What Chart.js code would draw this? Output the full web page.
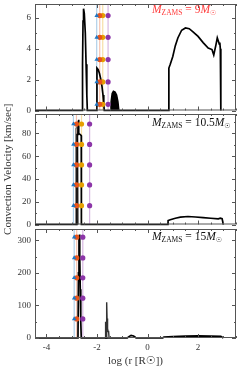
<!DOCTYPE html>
<html>
<head>
<meta charset="utf-8">
<script src="https://cdn.jsdelivr.net/npm/chart.js@4"></script>
<style>
  body { margin: 0; background: #fff; }
  #wrap { position: relative; width: 240px; height: 369px; }
  canvas { position: absolute; left: 0; top: 0; }
</style>
</head>
<body>
<div id="wrap">
  <canvas id="c9" width="240" height="369"></canvas>
  <canvas id="c105" width="240" height="369"></canvas>
  <canvas id="c15" width="240" height="369"></canvas>
</div>
<script>
// log r [Rsun] and convection velocity [km/s] per model
const r9 = [-4.45, -2.58, -2.57, -2.55, -2.53, -2.50, -2.46, -2.43, -2.40, -2.38, -2.01, -2.0, -1.95, -1.9, -1.85, -1.8, -1.76, -1.73, -1.71, 0.84, 0.845, 0.9, 1.0, 1.1, 1.2, 1.35, 1.5, 1.65, 1.8, 2.0, 2.2, 2.4, 2.55, 2.62, 2.7, 2.76, 2.8, 2.84, 2.86, 2.88, 2.9];
const vel9 = [0, 0, 3.0, 5.8, 6.6, 6.3, 5.0, 3.0, 1.0, 0, 0, 2.75, 2.65, 2.4, 2.05, 1.55, 1.0, 0.4, 0, 0, 2.75, 3.0, 3.5, 4.2, 4.7, 5.2, 5.35, 5.3, 5.1, 4.8, 4.4, 4.05, 3.95, 3.6, 4.2, 4.7, 4.5, 4.3, 4.4, 4.0, 0];
// dense shell, drawn filled
const r9b = [-1.45, -1.44, -1.40, -1.35, -1.28, -1.22, -1.17, -1.13];
const vel9b = [0, 0.6, 1.1, 1.25, 1.2, 1.0, 0.6, 0];

const r105 = [-4.45, -2.79, -2.785, -2.75, -2.735, -2.725, -2.715, -2.66, -2.62, -2.615, 0.81, 0.815, 0.9, 1.1, 1.3, 1.6, 1.9, 2.2, 2.5, 2.8, 2.88, 2.95, 3.0];
const vel105 = [0, 0, 79, 80, 91, 92, 80, 79, 78, 0, 0, 3.5, 4.2, 5.5, 6.5, 7.0, 6.6, 6.0, 5.5, 5.0, 5.6, 5.2, 0];
const r105b = [-2.84, -2.835, -2.78, -2.76, -2.74];
const vel105b = [0, 84, 86, 85, 0];

const r15 = [-4.45, -2.75, -2.73, -2.71, -2.69, -2.68, -2.66, -2.64, -2.62, -0.8, -0.72, -0.65, -0.55, -0.45, 0.6, 0.65, 1.0, 1.5, 2.0, 2.5, 2.9, 3.0];
const vel15 = [0, 0, 200, 300, 318, 250, 150, 50, 0, 0, 5, 8, 6, 0, 0, 3, 4, 5.5, 6.5, 6, 5, 0];
const r15b = [-1.68, -1.665, -1.65, -1.635, -1.62, -1.61, -1.6, -1.58, -1.56, -1.54, -1.52];
const vel15b = [0, 48, 50, 0, 0, 110, 60, 30, 20, 22, 0];

// marker columns: positions and heights
const markColors = ['#1f77c4', '#e8541c', '#e6a000', '#8c35a8'];
const markStyles = ['triangle', 'circle', 'circle', 'circle'];
const lines9 = [-2.01, -1.89, -1.77, -1.56];
const markY9 = [6.15, 4.74, 3.3, 1.85, 0.4];
const lines105 = [-2.93, -2.81, -2.61, -2.29];
const markY105 = [88.2, 70.3, 52.3, 34.7, 16.5];
const lines15 = [-2.90, -2.80, null, -2.56];
const markY15 = [310, 246, 185, 122.5, 58.6];

const xTicks = [-4, -2, 0, 2];
const yTicks9 = [0, 2, 4, 6];
const yTicks105 = [0, 20, 40, 60, 80];
const yTicks15 = [0, 100, 200, 300];

const serif = "'Liberation Serif', 'DejaVu Serif', 'DejaVu Sans', serif";

function zip(xs, ys) {
  return xs.map((x, i) => ({ x: x, y: ys[i] }));
}

function alpha(hex, a) {
  const n = parseInt(hex.slice(1), 16);
  return `rgba(${n >> 16}, ${(n >> 8) & 255}, ${n & 255}, ${a})`;
}

// frame with inward ticks plus the mass label
const framePlugin = {
  id: 'frame',
  afterDraw(chart, args, opts) {
    const ctx = chart.ctx;
    const a = chart.chartArea;
    const xs = chart.scales.x, ys = chart.scales.y;
    ctx.save();
    ctx.strokeStyle = '#555';
    ctx.lineWidth = 1;
    ctx.strokeRect(a.left + 0.5, a.top + 0.5, a.right - a.left - 1, a.bottom - a.top - 1);
    ctx.beginPath();
    for (let v = -4; v <= 3.5; v += 0.5) {
      const px = Math.round(xs.getPixelForValue(v)) + 0.5;
      const len = (v % 2 === 0) ? 4 : 2;
      ctx.moveTo(px, a.bottom); ctx.lineTo(px, a.bottom - len);
      ctx.moveTo(px, a.top); ctx.lineTo(px, a.top + len);
    }
    const step = opts.yStep;
    for (let v = 0; v <= ys.max; v += step / 2) {
      const py = Math.round(ys.getPixelForValue(v)) + 0.5;
      const len = (Math.abs(v / step - Math.round(v / step)) < 1e-6) ? 4 : 2;
      ctx.moveTo(a.left, py); ctx.lineTo(a.left + len, py);
      ctx.moveTo(a.right, py); ctx.lineTo(a.right - len, py);
    }
    ctx.stroke();

    // M_ZAMS = xM_sun
    let x = 152;
    const y = opts.labelY;
    ctx.fillStyle = opts.labelColor;
    ctx.textBaseline = 'alphabetic';
    ctx.textAlign = 'left';
    const put = (txt, font, dy) => {
      ctx.font = font;
      ctx.fillText(txt, x, y + dy);
      x += ctx.measureText(txt).width;
    };
    put('M', 'italic 11.5px ' + serif, 0);
    put('ZAMS', '7.5px ' + serif, 2);
    put(' = ' + opts.mass, '11.5px ' + serif, 0);
    put('M', 'italic 11.5px ' + serif, 0);
    put('\u2609', '7px DejaVu Sans', 2);
    ctx.restore();
  }
};

function makePanel(id, curve, extra, extraFill, extraColor, lines, markY, ymax, yTicks, top, bottom, withX, label) {
  const datasets = [];
  lines.forEach((lx, i) => {
    if (lx === null) return;
    datasets.push({
      data: [{ x: lx, y: 0 }, { x: lx, y: ymax }],
      showLine: true, pointRadius: 0, borderWidth: 1.2,
      borderColor: alpha(markColors[i], 0.35), order: 4
    });
  });
  datasets.push({
    data: extra, showLine: true, pointRadius: 0, borderWidth: 1.4,
    borderColor: extraColor, backgroundColor: extraColor,
    fill: extraFill ? 'origin' : false, order: 3, clip: 2
  });
  datasets.push({
    data: curve, showLine: true, pointRadius: 0, borderWidth: 1.7,
    borderColor: '#000', order: 2, clip: 2
  });
  lines.forEach((lx, i) => {
    if (lx === null) return;
    datasets.push({
      data: markY.map(v => ({ x: lx, y: v })),
      showLine: false, pointRadius: 2.6, pointStyle: markStyles[i],
      pointBackgroundColor: markColors[i], pointBorderWidth: 0, order: 1
    });
  });

  return new Chart(document.getElementById(id), {
    type: 'scatter',
    data: { datasets: datasets },
    options: {
      responsive: false,
      animation: false,
      devicePixelRatio: 1,
      layout: { padding: { top: top, bottom: withX ? 0 : 369 - bottom, left: 0, right: 2 } },
      plugins: {
        legend: { display: false },
        tooltip: { enabled: false },
        frame: label
      },
      scales: {
        x: {
          type: 'linear', min: -4.45, max: 3.5,
          grid: { display: false, drawTicks: false },
          border: { display: false },
          afterBuildTicks: s => { s.ticks = xTicks.map(v => ({ value: v })); },
          afterFit: s => { s.height = withX ? 369 - bottom : 0; s.paddingLeft = 0; s.paddingRight = 0; },
          ticks: {
            display: withX, padding: 4, color: '#333',
            font: { family: serif, size: 9 },
            callback: v => (v < 0 ? '-' + Math.abs(v) : '' + v)
          },
          title: {
            display: withX, text: 'log (r [R\u2609])', color: '#333',
            font: { family: serif, size: 11 }, padding: { top: 0, bottom: 1 }
          }
        },
        y: {
          type: 'linear', min: 0, max: ymax,
          grid: { display: false, drawTicks: false },
          border: { display: false },
          afterBuildTicks: s => { s.ticks = yTicks.map(v => ({ value: v })); },
          afterFit: s => { s.width = 35; s.paddingTop = 0; s.paddingBottom = 0; },
          ticks: { padding: 4, color: '#333', font: { family: serif, size: 9 } },
          title: {
            display: label.showTitle === true, text: 'Convection Velocity [km/sec]', color: '#333',
            font: { family: serif, size: 11 }, padding: { top: 1.5, bottom: 0 }
          }
        }
      }
    },
    plugins: [framePlugin]
  });
}

makePanel('c9', zip(r9, vel9), zip(r9b, vel9b), true, '#000', lines9, markY9, 6.9, yTicks9, 2, 110.5, false,
  { mass: '9', labelY: 13, labelColor: '#ff3b3b', yStep: 2 });
makePanel('c105', zip(r105, vel105), zip(r105b, vel105b), false, '#777', lines105, markY105, 97, yTicks105, 114, 224.5, false,
  { mass: '10.5', labelY: 126, labelColor: '#111', yStep: 20, showTitle: true });
makePanel('c15', zip(r15, vel15), zip(r15b, vel15b), false, '#333', lines15, markY15, 335, yTicks15, 229, 338, true,
  { mass: '15', labelY: 240, labelColor: '#111', yStep: 100 });
</script>
</body>
</html>
